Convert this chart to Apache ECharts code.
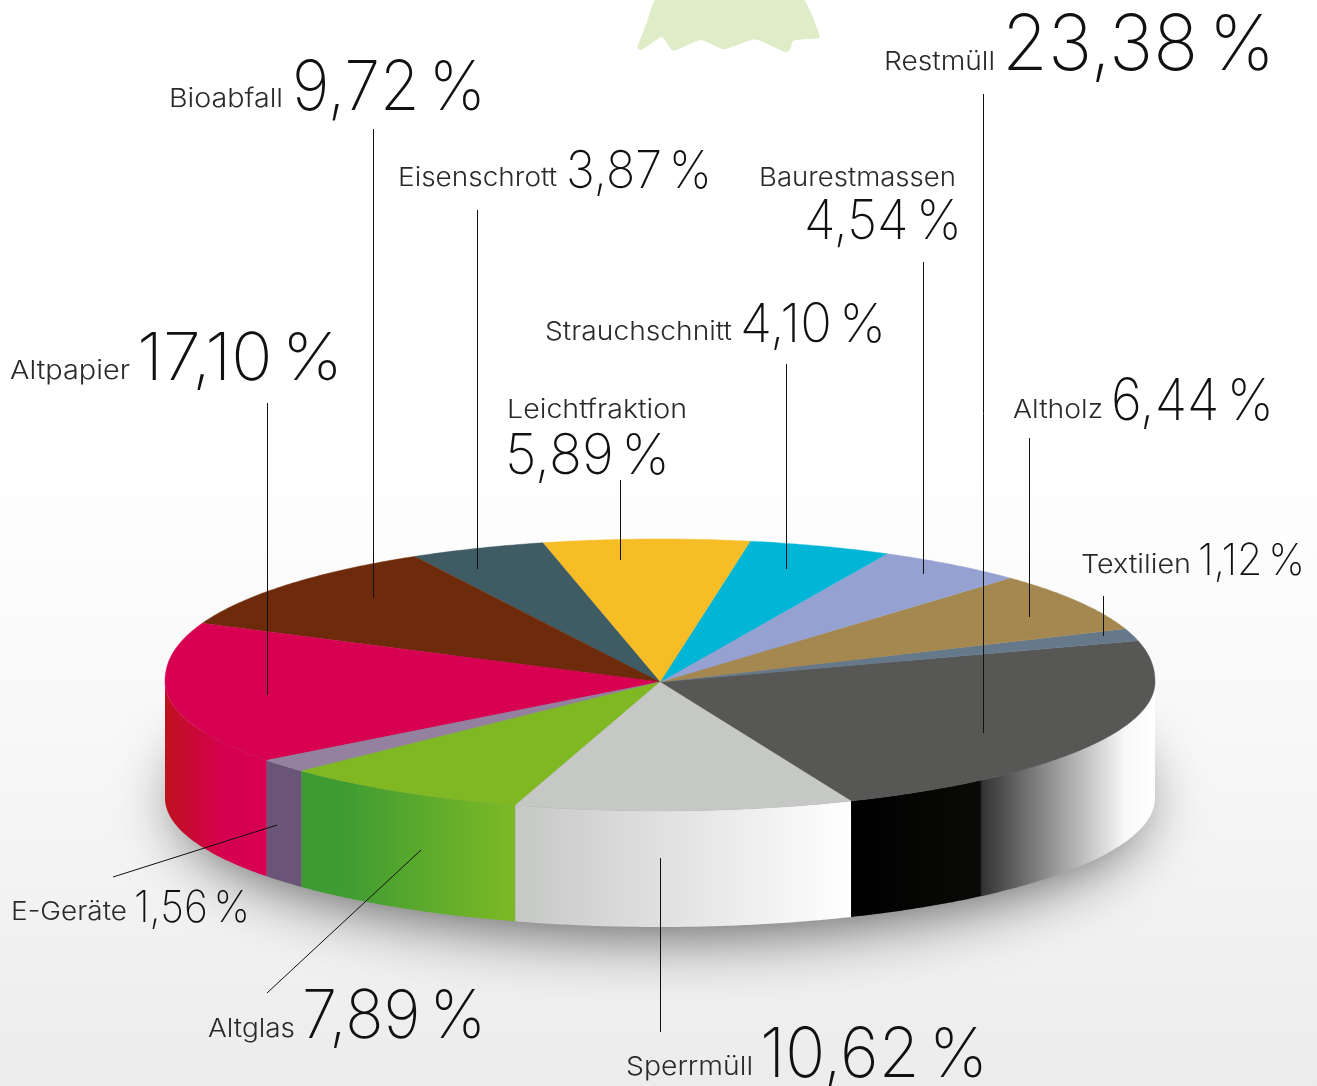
<!DOCTYPE html>
<html><head><meta charset="utf-8">
<style>html,body{margin:0;padding:0;background:#fff}#c{width:1317px;height:1086px}</style>
<script src="https://cdn.jsdelivr.net/npm/echarts@6/dist/echarts.min.js"></script>
</head><body><div id="c"></div>
<script>
// DATA: slices in drawing order, counter-clockwise from the Restmüll edge
const categories = ['Restmüll','Textilien','Altholz','Baurestmassen','Strauchschnitt','Leichtfraktion','Eisenschrott','Bioabfall','Altpapier','E-Geräte','Altglas','Sperrmüll'];
const percentNumbers = ['23,38','1,12','6,44','4,54','4,10','5,89','3,87','9,72','17,10','1,56','7,89','10,62'];
// Sweep of each slice (degrees); the printed percentages do not sum to 100.
const sliceSweeps = [82.3,5,25,17.7,16.8,24.2,16,38,59.7,6.2,29.4,39.7];
const firstEdge = 292.7;

const topColors = ['#575756','#66798a','#a58850','#95a1d1','#00b5d6','#f7bd27','#3f5c64','#6d2b0b','#d70051','#9481a0','#7fb822','#c6c8c6'];
const wallStops = [
  [[851,'#000000'],[980,'#0a0a08'],[982,'#333333'],[1125,'#f8f8f8'],[1155,'#ffffff']],
  null,null,null,null,null,null,null,
  [[165,'#bf111f'],[225,'#d60050'],[267,'#d70051']],
  [[267,'#6a5477'],[302,'#6a5477']],
  [[302,'#3b9a32'],[345,'#3f9c32'],[515,'#7cb925']],
  [[515,'#c6c8c6'],[851,'#ffffff']]
];

const cx = 660, cy = 682, rx = 495, ryTop = 143, ryBottom = 129, depth = 116, topBulge = 0.92;

// [name x, name mid y, name size, name width, value x, value mid y, value size, value width]
const labelLayout = [
  [884,62,26,111,1002,47,77,273],[1081,565,26,110,1198,562,44,107],[1013,410,26,90,1111,403,58,163],
  [759,178,26,197,804,222,55,158],[545,332,26,187,740,326,54,146],[507,410,26,180,505,457,56,165],
  [398,178,26,159,566,172,52,146],[169,99,26,114,292,89,69,194],[10,371,26,120,137,360,66,206],
  [11,912,26,116,134,909,44,116],[208,1029,26,87,302,1018,67,184],[626,1067,26,127,760,1056,69,228]
];
const leaderLines = [
  [983,94,983,733],[1103,596,1103,636],[1029,438,1029,617],[923,262,923,574],
  [786,364,786,569],[620,480,620,560],[477,210,477,569],[373,129,373,598],
  [267,403,267,695],[113,877,277,825],[267,993,421,850],[660,1032,660,858]
];
const treePoints = [[656.7,-2],[646.7,23],[637.3,48],[641.7,50],[661.7,37],[673,50.7],[700.7,40],[724,49.3],[755,39.3],[785.7,52.3],[790,50],[793.3,40.7],[818.3,38.3],[820,36],[801.7,-2]];

const font = 'Inter';
const nameWeight = 300, valueWeight = 200, spaceRatio = 0.5;
const measure = document.createElement('canvas').getContext('2d');
function textW(text,fontStr){ measure.font=fontStr; return measure.measureText(text).width; }

function rim(deg){
  const a = deg*Math.PI/180, s = Math.sin(a);
  return [cx+rx*Math.cos(a), s>0 ? cy-ryTop*Math.pow(s,topBulge) : cy-ryBottom*s];
}
function arc(a,b){
  const p=[], n=Math.max(2,Math.ceil(Math.abs(b-a)*2));
  for(let i=0;i<=n;i++) p.push(rim(a+(b-a)*i/n));
  return p;
}
let edge = firstEdge;
const sliceRows = sliceSweeps.map((w,i)=>{const r=[edge,edge+w,i];edge+=w;return r;});

function wallPieces(s,e){
  const out=[];
  [[180,360],[540,720]].forEach(([a,b])=>{
    const l=Math.max(s,a),h=Math.min(e,b);
    if(h>l) out.push([l,h]);
  });
  return out;
}
function renderSlice(params,api){
  const s=api.value(0),e=api.value(1),i=api.value(2),children=[];
  wallPieces(s,e).forEach(([l,h])=>{
    const up=arc(l,h), down=up.slice().reverse().map(p=>[p[0],p[1]+depth]);
    const st=wallStops[i]||[[0,topColors[i]],[1,topColors[i]]];
    const x0=st[0][0],x1=st[st.length-1][0];
    children.push({type:'polygon',shape:{points:up.concat(down)},
      style:{fill:new echarts.graphic.LinearGradient(x0,0,x1,0,st.map(t=>({offset:(t[0]-x0)/(x1-x0),color:t[1]})),true)}});
  });
  children.push({type:'polygon',shape:{points:[[cx,cy]].concat(arc(s,e))},
    style:{fill:topColors[i],stroke:topColors[i],lineWidth:0.4}});
  return {type:'group',children};
}
function renderShadow(){
  const pts=arc(0,360).map(p=>[cx+(p[0]-cx)*0.97,p[1]+depth-12]);
  return {type:'polygon',shape:{points:pts},
    style:{fill:'#999',shadowBlur:64,shadowColor:'rgba(0,0,0,0.65)',shadowOffsetY:18}};
}

const graphicEls = [{type:'polygon',z:1,shape:{points:treePoints,smooth:0.15},style:{fill:'#dfecc8'}}];
leaderLines.forEach(l=>{
  const v=l[0]===l[2], d=v?0.5:0;
  graphicEls.push({type:'line',z:50,shape:{x1:l[0]+d,y1:l[1],x2:l[2]+d,y2:l[3]},style:{stroke:'#111',lineWidth:1}});
});
categories.forEach((n,i)=>{
  const L=labelLayout[i];
  const f1=nameWeight+' '+L[2]+'px '+font, f2=valueWeight+' '+L[6]+'px '+font;
  const spSize=Math.round(L[6]*spaceRatio), f3=valueWeight+' '+spSize+'px '+font;
  const num=percentNumbers[i];
  const natural=textW(num,f2)+textW(' ',f3)+textW('%',f2);
  graphicEls.push({type:'text',z:60,x:L[0],y:L[1],scaleX:L[3]/textW(n,f1),style:{text:n,font:f1,fill:'#2a2a2a',textAlign:'left',textVerticalAlign:'middle'}});
  graphicEls.push({type:'text',z:60,x:L[4],y:L[5],scaleX:L[7]/natural,style:{
    text:'{v|'+num+'}{s| }{v|%}',textAlign:'left',textVerticalAlign:'middle',
    rich:{v:{font:f2,fill:'#111'},s:{font:f3,fill:'#111'}}}});
});

const chart = echarts.init(document.getElementById('c'),null,{renderer:'canvas'});
chart.setOption({
  animation:false,
  backgroundColor:new echarts.graphic.LinearGradient(0,0,0,1,[{offset:0,color:'#ffffff'},{offset:0.42,color:'#ffffff'},{offset:0.7,color:'#f7f7f7'},{offset:1,color:'#ececec'}]),
  graphic:graphicEls,
  series:[
    {type:'custom',coordinateSystem:'none',silent:true,z:2,data:[[0]],renderItem:renderShadow},
    {type:'custom',coordinateSystem:'none',silent:true,z:3,data:sliceRows,encode:{},renderItem:renderSlice}
  ]
});
</script></body></html>
